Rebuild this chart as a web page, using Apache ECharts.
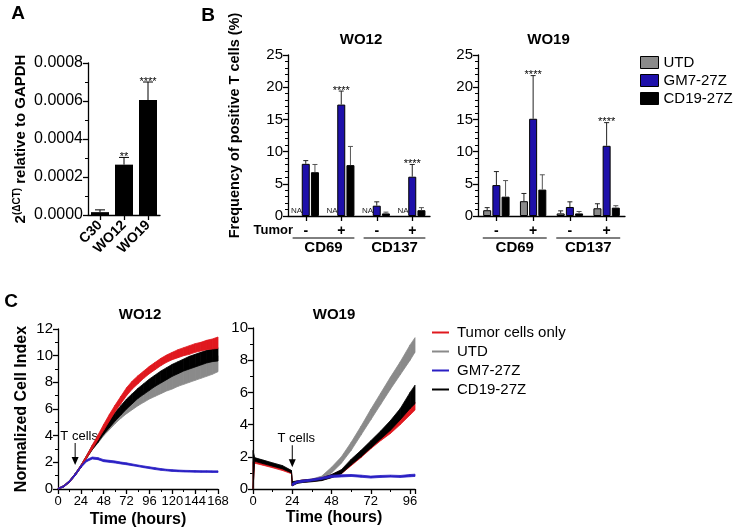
<!DOCTYPE html>
<html><head><meta charset="utf-8">
<script src="https://cdn.jsdelivr.net/npm/echarts@6/dist/echarts.min.js"></script>
<style>html,body{margin:0;padding:0;background:#fff}#c{width:736px;height:530px}</style>
</head><body><div id="c"></div>
<script>
const FONT = '"Liberation Sans", Arial, sans-serif';

// ---------- Panel A ----------
const aCategories = ['C30', 'WO12', 'WO19'];
const aValues = [0.000015, 0.000265, 0.000605];
const aErrTop = [0.000027, 0.000303, 0.000700];
const aStars = ['', '**', '****'];

// ---------- Panel B ----------
const bCategories = ['CD69-', 'CD69+', 'CD137-', 'CD137+'];
const bTumorLabels = ['-', '+', '-', '+'];
const bGroups = ['CD69', 'CD137'];
const bSeriesNames = ['UTD', 'GM7-27Z', 'CD19-27Z'];
// WO12 (UTD not available -> null = "NA")
const wo12UTD = [null, null, null, null];
const wo12UTDErr = [null, null, null, null];
const wo12GM7 = [8.1, 17.3, 1.6, 6.1];
const wo12GM7Err = [8.6, 19.4, 2.2, 8.0];
const wo12CD19 = [6.8, 7.9, 0.4, 0.9];
const wo12CD19Err = [8.0, 10.8, 0.6, 1.3];
const wo12GM7Stars = ['', '****', '', '****'];
// WO19
const wo19UTD = [0.9, 2.3, 0.4, 1.2];
const wo19UTDErr = [1.3, 3.5, 0.8, 1.9];
const wo19GM7 = [4.8, 15.1, 1.4, 10.9];
const wo19GM7Err = [6.9, 21.8, 2.2, 14.5];
const wo19CD19 = [3.0, 4.1, 0.4, 1.3];
const wo19CD19Err = [5.5, 6.4, 0.7, 1.6];
const wo19GM7Stars = ['', '****', '', '****'];

// ---------- Panel C ----------
const cNames = ['Tumor cells only', 'UTD', 'GM7-27Z', 'CD19-27Z'];
// WO12 impedance (band = lower / upper)
const wo12Time = [0,6,12,18,24,30,36,42,48,54,60,66,72,78,84,90,96,102,108,114,120,126,132,138,144,150,156,162,168];
const wo12TumorLo = [0,0.15,0.5,1.0,1.6,2.3,3.0,3.7,4.4,5.1,5.8,6.4,7.0,7.5,7.9,8.3,8.65,8.95,9.25,9.5,9.7,9.85,10.0,10.1,10.25,10.35,10.45,10.5,10.55];
const wo12TumorHi = [0.05,0.25,0.62,1.15,1.78,2.5,3.3,4.05,4.85,5.6,6.3,6.95,7.6,8.1,8.5,8.85,9.2,9.5,9.8,10.05,10.25,10.45,10.6,10.75,10.9,11.0,11.15,11.25,11.4];
const wo12UTDLo = [0,0.15,0.5,1.0,1.6,2.3,2.95,3.45,4.0,4.45,4.9,5.3,5.65,5.95,6.25,6.5,6.75,6.95,7.15,7.35,7.5,7.7,7.85,8.0,8.15,8.3,8.45,8.6,8.8];
const wo12UTDHi = [0.05,0.25,0.62,1.15,1.78,2.5,3.25,3.8,4.45,5.0,5.5,5.95,6.35,6.7,7.05,7.35,7.6,7.85,8.1,8.35,8.55,8.75,8.95,9.15,9.35,9.5,9.7,9.85,10.0];
const wo12GM7Lo = [0,0.15,0.5,1.0,1.6,2.05,2.25,2.2,2.05,2.0,1.95,1.88,1.82,1.75,1.68,1.6,1.53,1.46,1.4,1.36,1.32,1.3,1.28,1.27,1.26,1.25,1.25,1.24,1.24];
const wo12GM7Hi = [0.05,0.25,0.62,1.15,1.75,2.2,2.4,2.35,2.2,2.15,2.1,2.02,1.96,1.88,1.8,1.73,1.66,1.6,1.53,1.48,1.45,1.42,1.4,1.39,1.38,1.37,1.37,1.36,1.36];
const wo12CD19Lo = [0,0.15,0.5,1.0,1.6,2.3,2.95,3.5,4.1,4.6,5.1,5.55,6.0,6.4,6.8,7.1,7.4,7.7,7.95,8.2,8.45,8.65,8.85,9.0,9.15,9.3,9.45,9.55,9.6];
const wo12CD19Hi = [0.05,0.25,0.62,1.15,1.78,2.5,3.25,3.9,4.6,5.2,5.75,6.25,6.75,7.15,7.55,7.9,8.25,8.55,8.85,9.1,9.35,9.55,9.75,9.95,10.1,10.25,10.4,10.5,10.6];
// WO19 impedance
const wo19Time = [0,1,6,12,18,23.5,24,27,30,36,42,48,54,60,66,72,78,84,90,96,99];
const wo19TumorLo = [0,1.6,1.48,1.32,1.15,0.95,0.2,0.4,0.43,0.48,0.55,0.72,0.95,1.45,1.95,2.5,3.0,3.45,4.0,4.6,4.9];
const wo19TumorHi = [1.7,1.7,1.58,1.42,1.25,1.05,0.35,0.5,0.55,0.6,0.7,0.88,1.15,1.7,2.25,2.85,3.35,3.8,4.4,5.1,5.4];
const wo19UTDLo = [0,1.72,1.58,1.42,1.25,1.0,0.2,0.35,0.4,0.47,0.6,1.0,1.6,2.4,3.35,4.3,5.25,6.2,7.1,8.0,8.5];
const wo19UTDHi = [2.3,1.9,1.8,1.62,1.45,1.15,0.45,0.5,0.55,0.62,0.8,1.35,2.0,2.9,3.9,4.95,5.95,6.95,7.9,8.95,9.4];
const wo19GM7Lo = [null,null,null,null,null,null,0.2,0.38,0.42,0.5,0.6,0.72,0.75,0.78,0.73,0.68,0.72,0.74,0.72,0.76,0.78];
const wo19GM7Hi = [null,null,null,null,null,null,0.35,0.5,0.55,0.62,0.72,0.86,0.88,0.9,0.86,0.8,0.84,0.86,0.84,0.9,0.92];
const wo19CD19Lo = [0,1.72,1.58,1.42,1.25,1.0,0.2,0.35,0.4,0.45,0.52,0.7,0.95,1.5,2.0,2.55,3.1,3.65,4.3,5.0,5.3];
const wo19CD19Hi = [2.4,1.95,1.8,1.62,1.45,1.15,0.45,0.5,0.55,0.6,0.68,0.9,1.2,1.85,2.4,3.0,3.6,4.25,5.0,6.0,6.45];

const COL = { gray: '#8a8a8a', blue: '#1e10aa', black: '#000000', red: '#e0181e', lineBlue: '#2a1fc4' };

const axisLine = { show: true, lineStyle: { color: '#000', width: 1.3 } };
const axisTick = { show: true, length: 5, lineStyle: { color: '#000', width: 1.3 } };
const minorTick = (n) => ({ show: true, splitNumber: n, length: 3, lineStyle: { color: '#000', width: 1 } });

const option = {
  animation: false,
  textStyle: { fontFamily: FONT },
  grid: [
    { left: 88, top: 63, width: 72, height: 152 },
    { left: 288, top: 55, width: 142, height: 161 },
    { left: 478, top: 55, width: 147, height: 161 },
    { left: 58, top: 329, width: 160, height: 160 },
    { left: 253, top: 328, width: 162, height: 161 }
  ],
  legend: [
    { orient: 'vertical', left: 635, top: 50, itemWidth: 18, itemHeight: 12, itemGap: 3,
      icon: 'rect', data: bSeriesNames, selectedMode: false,
      itemStyle: { borderColor: '#000', borderWidth: 1 },
      textStyle: { fontSize: 15, color: '#000', fontFamily: FONT } },
    { orient: 'vertical', left: 427, top: 320, itemWidth: 17, itemHeight: 2, itemGap: 4,
      icon: 'rect', selectedMode: false,
      data: cNames.map((n, i) => ({ name: n, itemStyle: { color: [COL.red, COL.gray, COL.lineBlue, COL.black][i], borderWidth: 0 } })),
      itemStyle: { borderWidth: 0 },
      textStyle: { fontSize: 15, color: '#000', fontFamily: FONT, padding: [0, 0, 0, 3] } }
  ],
  xAxis: [
    { gridIndex: 0, type: 'category', data: aCategories, axisLine, axisTick: Object.assign({ alignWithLabel: true }, axisTick),
      axisLabel: { rotate: 45, interval: 0, hideOverlap: false, fontSize: 14, fontWeight: 'bold', color: '#000', margin: 8, fontFamily: FONT } },
    { gridIndex: 1, type: 'category', data: bCategories, axisLine, axisTick: Object.assign({ alignWithLabel: true }, axisTick),
      axisLabel: { interval: 0, formatter: (v, i) => bTumorLabels[i], fontSize: 14, fontWeight: 'bold', color: '#000', margin: 8, fontFamily: FONT } },
    { gridIndex: 1, type: 'category', data: bGroups, position: 'bottom', offset: 18, axisLine: { show: false }, axisTick: { show: false },
      axisLabel: { interval: 0, fontSize: 15, fontWeight: 'bold', color: '#000', margin: 6, fontFamily: FONT } },
    { gridIndex: 2, type: 'category', data: bCategories, axisLine, axisTick: Object.assign({ alignWithLabel: true }, axisTick),
      axisLabel: { interval: 0, formatter: (v, i) => bTumorLabels[i], fontSize: 14, fontWeight: 'bold', color: '#000', margin: 8, fontFamily: FONT } },
    { gridIndex: 2, type: 'category', data: bGroups, position: 'bottom', offset: 18, axisLine: { show: false }, axisTick: { show: false },
      axisLabel: { interval: 0, fontSize: 15, fontWeight: 'bold', color: '#000', margin: 6, fontFamily: FONT } },
    { gridIndex: 3, type: 'value', min: 0, max: 168, interval: 24, axisLine, axisTick, minorTick: minorTick(2), splitLine: { show: false },
      axisLabel: { fontSize: 13, color: '#000', margin: 6, fontFamily: FONT },
      name: 'Time (hours)', nameLocation: 'middle', nameGap: 23, nameTextStyle: { fontSize: 16, fontWeight: 'bold', color: '#000', fontFamily: FONT } },
    { gridIndex: 4, type: 'value', min: 0, max: 99, interval: 24, axisLine, axisTick, minorTick: minorTick(2), splitLine: { show: false },
      axisLabel: { fontSize: 13, color: '#000', margin: 6, fontFamily: FONT, showMaxLabel: false },
      name: 'Time (hours)', nameLocation: 'middle', nameGap: 21, nameTextStyle: { fontSize: 16, fontWeight: 'bold', color: '#000', fontFamily: FONT } }
  ],
  yAxis: [
    { gridIndex: 0, type: 'value', min: 0, max: 0.0008, interval: 0.0002, axisLine, axisTick, minorTick: minorTick(2), splitLine: { show: false },
      axisLabel: { formatter: v => v.toFixed(4), fontSize: 16, color: '#000', margin: 5, fontFamily: FONT },
      name: '{b|2}{s|(ΔCT)}{b| relative to GAPDH}', nameLocation: 'middle', nameGap: 58, nameRotate: 90,
      nameTextStyle: { rich: { b: { fontSize: 15, fontWeight: 'bold', color: '#000', fontFamily: FONT }, s: { fontSize: 10, fontWeight: 'bold', color: '#000', fontFamily: FONT, padding: [0, 0, 8, 0] } } } },
    { gridIndex: 1, type: 'value', min: 0, max: 25, interval: 5, axisLine, axisTick, minorTick: minorTick(5), splitLine: { show: false },
      axisLabel: { fontSize: 15, color: '#000', margin: 5, fontFamily: FONT },
      name: 'Frequency of positive T cells (%)', nameLocation: 'middle', nameGap: 46, nameRotate: 90,
      nameTextStyle: { fontSize: 14.5, fontWeight: 'bold', color: '#000', fontFamily: FONT, padding: [0, 0, 0, 20] } },
    { gridIndex: 2, type: 'value', min: 0, max: 25, interval: 5, axisLine, axisTick, minorTick: minorTick(5), splitLine: { show: false },
      axisLabel: { fontSize: 15, color: '#000', margin: 5, fontFamily: FONT } },
    { gridIndex: 3, type: 'value', min: 0, max: 12, interval: 2, axisLine, axisTick, minorTick: minorTick(2), splitLine: { show: false },
      axisLabel: { fontSize: 15, color: '#000', margin: 5, fontFamily: FONT },
      name: 'Normalized Cell Index', nameLocation: 'middle', nameGap: 28, nameRotate: 90,
      nameTextStyle: { fontSize: 16, fontWeight: 'bold', color: '#000', fontFamily: FONT } },
    { gridIndex: 4, type: 'value', min: 0, max: 10, interval: 2, axisLine, axisTick, minorTick: minorTick(2), splitLine: { show: false },
      axisLabel: { fontSize: 15, color: '#000', margin: 5, fontFamily: FONT } }
  ],
  series: [],
  graphic: []
};

// ---- error bar helper ----
function errSeries(items, xi, yi, capHalf) {
  return {
    type: 'custom', xAxisIndex: xi, yAxisIndex: yi, z: 5, silent: true,
    encode: { x: 0, y: [1, 2] },
    data: items.map(d => [d.ci, d.v, d.e == null ? d.v : d.e]),
    renderItem: (params, api) => {
      const d = items[params.dataIndex];
      const base = api.coord([d.ci, d.v]);
      const x = base[0] + d.off;
      const ch = [];
      let topY = base[1];
      if (d.e != null) {
        const top = api.coord([d.ci, d.e]);
        topY = top[1];
        ch.push({ type: 'line', shape: { x1: x, y1: base[1], x2: x, y2: topY }, style: { stroke: d.col, lineWidth: 1 } });
        ch.push({ type: 'line', shape: { x1: x - capHalf, y1: topY, x2: x + capHalf, y2: topY }, style: { stroke: d.col, lineWidth: 1 } });
      }
      if (d.star) {
        ch.push({ type: 'text', style: { text: d.star, x: x, y: topY + 5, align: 'center', verticalAlign: 'bottom', font: '11px ' + FONT, fill: '#000' } });
      }
      return { type: 'group', children: ch };
    }
  };
}

// ---- Panel A series ----
option.series.push({ type: 'bar', xAxisIndex: 0, yAxisIndex: 0, data: aValues, barWidth: 18,
  itemStyle: { color: '#000' }, silent: true });
option.series.push(errSeries(aCategories.map((c, i) => ({ ci: i, v: aValues[i], e: aErrTop[i], off: 0, col: '#000', star: aStars[i] })), 0, 0, 5));

// ---- Panel B series ----
const BW = 8, STEP = 9.2;
function bPanel(xi, yi, vals, errs, stars) {
  const colors = [COL.gray, COL.blue, COL.black];
  vals.forEach((arr, k) => {
    option.series.push({
      type: 'bar', name: bSeriesNames[k], xAxisIndex: xi, yAxisIndex: yi, barWidth: BW, barGap: '15%',
      itemStyle: { color: colors[k], borderColor: '#000', borderWidth: 1 },
      data: arr.map(v => v == null
        ? { value: 0, itemStyle: { borderWidth: 0 }, label: { show: true, position: 'top', distance: 1, formatter: 'NA', fontSize: 8, color: '#222', fontFamily: FONT } }
        : v),
      silent: true
    });
  });
  const items = [];
  vals.forEach((arr, k) => arr.forEach((v, i) => {
    if (v == null) return;
    items.push({ ci: i, v: v, e: errs[k][i], off: (k - 1) * STEP, col: k === 2 ? '#555' : '#222', star: k === 1 ? stars[i] : '' });
  }));
  option.series.push(errSeries(items, xi, yi, 2.5));
}
bPanel(1, 1, [wo12UTD, wo12GM7, wo12CD19], [wo12UTDErr, wo12GM7Err, wo12CD19Err], wo12GM7Stars);
bPanel(3, 2, [wo19UTD, wo19GM7, wo19CD19], [wo19UTDErr, wo19GM7Err, wo19CD19Err], wo19GM7Stars);

// ---- Panel C series (bands drawn as segment polygons via custom series) ----
function band(name, time, lo, hi, color, xi, yi) {
  const data = [];
  for (let i = 0; i < time.length - 1; i++) {
    if (lo[i] == null || hi[i] == null || lo[i + 1] == null || hi[i + 1] == null) continue;
    data.push([time[i], lo[i], hi[i], time[i + 1], lo[i + 1], hi[i + 1]]);
  }
  option.series.push({
    type: 'custom', name: name, xAxisIndex: xi, yAxisIndex: yi, silent: true,
    itemStyle: { color: color },
    encode: { x: [0, 3], y: [1, 2, 4, 5] },
    data: data,
    renderItem: (params, api) => {
      const a = api.coord([api.value(0), api.value(1)]);
      const b = api.coord([api.value(3), api.value(4)]);
      const c = api.coord([api.value(3), api.value(5)]);
      const d = api.coord([api.value(0), api.value(2)]);
      return { type: 'polygon', shape: { points: [a, b, c, d] },
        style: { fill: color, stroke: color, lineWidth: 0.8, lineJoin: 'round' } };
    }
  });
}
band('UTD', wo12Time, wo12UTDLo, wo12UTDHi, COL.gray, 5, 3);
band('CD19-27Z', wo12Time, wo12CD19Lo, wo12CD19Hi, COL.black, 5, 3);
band('Tumor cells only', wo12Time, wo12TumorLo, wo12TumorHi, COL.red, 5, 3);
band('GM7-27Z', wo12Time, wo12GM7Lo, wo12GM7Hi, COL.lineBlue, 5, 3);
band('UTD', wo19Time, wo19UTDLo, wo19UTDHi, COL.gray, 6, 4);
band('Tumor cells only', wo19Time, wo19TumorLo, wo19TumorHi, COL.red, 6, 4);
band('CD19-27Z', wo19Time, wo19CD19Lo, wo19CD19Hi, COL.black, 6, 4);
band('GM7-27Z', wo19Time, wo19GM7Lo, wo19GM7Hi, COL.lineBlue, 6, 4);

const chart = echarts.init(document.getElementById('c'), null, { renderer: 'canvas' });
chart.setOption(option);

// ---- annotations ----
const g = [];
function txt(x, y, s, font, align) {
  g.push({ type: 'text', x: x, y: y, style: { text: s, font: font, fill: '#000', align: align || 'center', verticalAlign: 'middle' } });
}
txt(18, 14, 'A', 'bold 19px ' + FONT);
txt(208, 16, 'B', 'bold 19px ' + FONT);
txt(11, 302, 'C', 'bold 19px ' + FONT);
// titles
const gb1 = option.grid[1], gb2 = option.grid[2], gc1 = option.grid[3], gc2 = option.grid[4];
txt(gb1.left + gb1.width / 2 + 2, 40, 'WO12', 'bold 15px ' + FONT);
txt(gb2.left + gb2.width / 2 - 3, 40, 'WO19', 'bold 15px ' + FONT);
txt(gc1.left + gc1.width / 2 + 2, 315, 'WO12', 'bold 15px ' + FONT);
txt(gc2.left + gc2.width / 2, 315, 'WO19', 'bold 15px ' + FONT);
// Tumor label
txt(gb1.left + 5, 230, 'Tumor', 'bold 13px ' + FONT, 'right');
// group underlines
[[2, gb1], [4, gb2]].forEach(([xi, gr]) => {
  bGroups.forEach(name => {
    const cx = chart.convertToPixel({ xAxisIndex: xi }, name);
    const hw = gr.width / 2 * 0.87 / 2;
    g.push({ type: 'line', shape: { x1: cx - hw, y1: 238, x2: cx + hw, y2: 238 }, style: { stroke: '#000', lineWidth: 1 } });
  });
});
// T cells arrows
function arrow(gridIndex, pt) {
  const p = chart.convertToPixel({ gridIndex: gridIndex }, pt);
  const tipY = p[1];
  g.push({ type: 'line', shape: { x1: p[0], y1: tipY - 22, x2: p[0], y2: tipY - 5 }, style: { stroke: '#000', lineWidth: 1 } });
  g.push({ type: 'polygon', shape: { points: [[p[0] - 3.5, tipY - 8], [p[0] + 3.5, tipY - 8], [p[0], tipY]] }, style: { fill: '#000' } });
  txt(p[0] + 4, tipY - 29, 'T cells', '13px ' + FONT);
}
arrow(3, [18, 1.8]);
arrow(4, [24, 1.35]);
chart.setOption({ graphic: g });
</script>
</body></html>
